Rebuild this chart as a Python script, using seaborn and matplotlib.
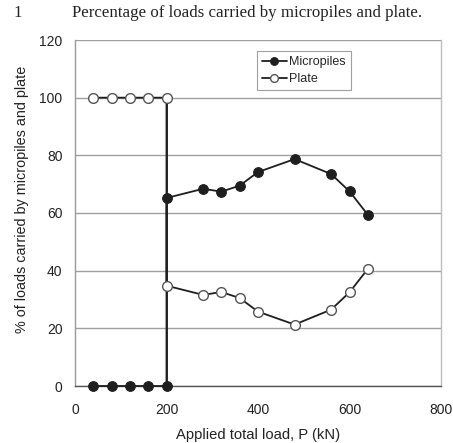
import numpy as np
import pandas as pd
import matplotlib
matplotlib.use("Agg")
import matplotlib.pyplot as plt
import seaborn as sns

# Applied total load steps (kN); the 200 kN step appears twice because the
# load transfer jumps at that step.
load_kn = [40, 80, 120, 160, 200, 200, 280, 320, 360, 400, 480, 560, 600, 640]
micropiles_pct = [0, 0, 0, 0, 0, 65.2, 68.4, 67.4, 69.5, 74.2, 78.7, 73.5, 67.5, 59.4]
plate_pct = [100, 100, 100, 100, 100, 34.8, 31.6, 32.6, 30.5, 25.8, 21.3, 26.5, 32.5, 40.6]

x_ticks = [0, 200, 400, 600, 800]
y_ticks = [0, 20, 40, 60, 80, 100, 120]

df = pd.DataFrame({"load": load_kn, "Micropiles": micropiles_pct, "Plate": plate_pct})

sns.set_style("white")
plt.rcParams["font.family"] = ["Liberation Sans", "DejaVu Sans"]

fig = plt.figure(figsize=(4.53, 4.43), dpi=100)
ax = fig.add_axes([75 / 453, 57 / 443, 366 / 453, 346 / 443])

line_col = "#1e1e1e"
sns.lineplot(data=df, x="load", y="Micropiles", sort=False, estimator=None,
             color=line_col, lw=1.3, marker="o", markersize=7,
             markerfacecolor=line_col, markeredgecolor=line_col,
             label="Micropiles", clip_on=False, zorder=4, ax=ax)
sns.lineplot(data=df, x="load", y="Plate", sort=False, estimator=None,
             color=line_col, lw=1.3, marker="o", markersize=7,
             markerfacecolor="white", markeredgecolor="#555555", markeredgewidth=1.0,
             label="Plate", clip_on=False, zorder=4, ax=ax)

# vertical jump at the load step where the load transfer switches
jump = df["load"][df["load"].duplicated()].iloc[0]
ax.vlines(jump, min(df["Micropiles"].min(), df["Plate"].min()),
          max(df["Micropiles"].max(), df["Plate"].max()),
          color=line_col, lw=1.3, zorder=3)

ax.set_xlim(0, 800)
ax.set_ylim(0, 120)
ax.set_xticks(x_ticks)
ax.set_yticks(y_ticks)
ax.yaxis.grid(True, color="#a0a0a0", lw=1.0)
ax.xaxis.grid(False)
ax.set_axisbelow(True)

ax.spines["left"].set_color("#9a9a9a")
ax.spines["right"].set_color("#bdbdbd")
ax.spines["top"].set_visible(False)
ax.spines["bottom"].set_color("#555555")
for sp in ax.spines.values():
    sp.set_linewidth(1.0)

ax.tick_params(axis="both", which="major", direction="out", length=5, width=1.0,
               color="#777777", labelsize=10, labelcolor="#222222", pad=4)
ax.tick_params(axis="x", pad=7)

ax.set_xlabel("Applied total load, P (kN)", fontsize=10.6, color="#222222", labelpad=8)
ax.set_ylabel("% of loads carried by micropiles and plate", fontsize=10.4,
              color="#222222")
ax.yaxis.set_label_coords(-0.125, 0.54)

leg = ax.legend(loc="upper left", bbox_to_anchor=((256.7 - 75) / 366, (386 - 51) / 346),
                borderaxespad=0, frameon=True, fancybox=False, fontsize=9,
                handlelength=2.0, handletextpad=0.2, borderpad=0.4, labelspacing=0.4,
                markerscale=0.8)
leg.get_frame().set_edgecolor("#888888")
leg.get_frame().set_linewidth(0.8)

fig.text(13 / 453, 1 - 13 / 443, "1", family="Liberation Serif", fontsize=12,
         va="center", ha="left", color="#222222")
fig.text(72 / 453, 1 - 13 / 443, "Percentage of loads carried by micropiles and plate.",
         family="Liberation Serif", fontsize=12.2, va="center", ha="left", color="#222222")

fig.savefig("out.png", dpi=100)
